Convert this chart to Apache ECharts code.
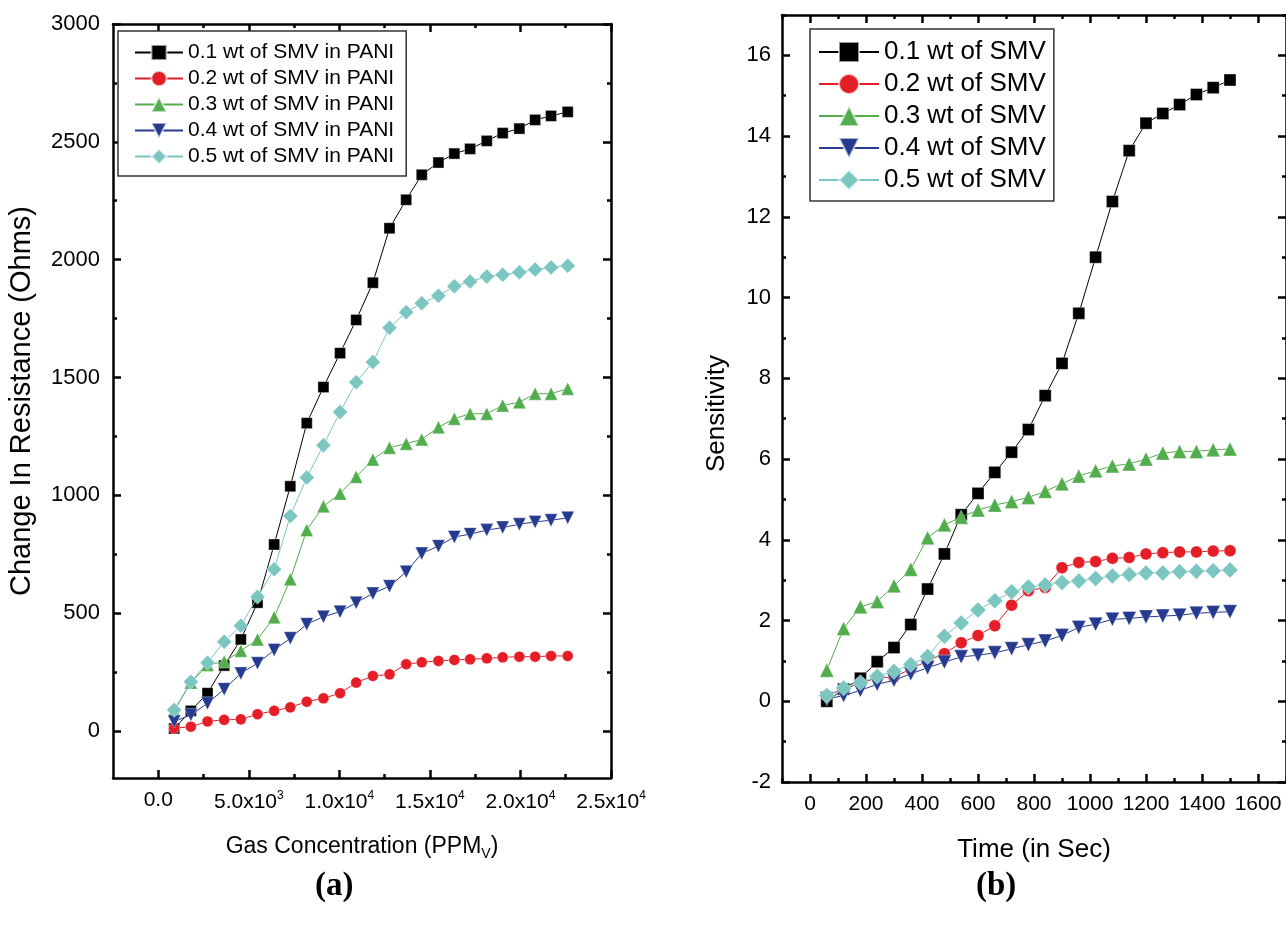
<!DOCTYPE html>
<html>
<head>
<meta charset="utf-8">
<title>SMV in PANI sensor response</title>
<script src="https://cdn.jsdelivr.net/npm/echarts@6/dist/echarts.min.js"></script>
<style>
  html, body { margin: 0; padding: 0; background: #fff; }
  #main { width: 1286px; height: 927px; }
</style>
</head>
<body>
<div id="main"></div>
<script>
// ---- (a) change in resistance vs gas concentration ----
var concA = [880, 1800, 2720, 3640, 4560, 5480, 6400, 7290, 8200, 9120, 10040, 10930, 11850,
  12770, 13690, 14550, 15470, 16350, 17220, 18140, 19020, 19940, 20810, 21690, 22610];
var resA1 = [10, 85, 160, 277, 388, 544, 791, 1038, 1306, 1459, 1603, 1744, 1902, 2133, 2254,
  2360, 2412, 2450, 2470, 2504, 2537, 2556, 2593, 2610, 2627];
var resA2 = [11, 18, 40, 47, 49, 71, 85, 100, 124, 138, 160, 205, 233, 240, 283, 291, 297, 301,
  304, 308, 312, 315, 315, 318, 318];
var resA3 = [85, 205, 280, 294, 340, 388, 482, 643, 852, 953, 1007, 1078, 1152, 1202, 1219, 1237,
  1289, 1325, 1346, 1346, 1381, 1395, 1431, 1431, 1452];
var resA4 = [40, 68, 117, 177, 244, 287, 343, 393, 453, 484, 506, 544, 583, 614, 675, 753, 784,
  823, 835, 852, 863, 877, 887, 894, 904];
var resA5 = [89, 209, 289, 378, 446, 569, 686, 912, 1075, 1212, 1353, 1480, 1565, 1711, 1777,
  1815, 1847, 1887, 1907, 1928, 1936, 1946, 1958, 1967, 1974];
var namesA = ['0.1 wt of SMV in PANI', '0.2 wt of SMV in PANI', '0.3 wt of SMV in PANI',
  '0.4 wt of SMV in PANI', '0.5 wt of SMV in PANI'];

// ---- (b) sensitivity vs time ----
var timeB = [60, 120, 180, 240, 300, 360, 420, 480, 540, 600, 660, 720, 780, 840, 900, 960,
  1020, 1080, 1140, 1200, 1260, 1320, 1380, 1440, 1500];
var sensB1 = [0.0, 0.3, 0.57, 0.98, 1.33, 1.90, 2.78, 3.65, 4.62, 5.15, 5.67, 6.17, 6.73, 7.57,
  8.37, 9.61, 11.0, 12.38, 13.64, 14.32, 14.56, 14.78, 15.03, 15.2, 15.39];
var sensB2 = [0.14, 0.3, 0.45, 0.58, 0.6, 0.8, 1.0, 1.18, 1.45, 1.63, 1.87, 2.38, 2.74, 2.82,
  3.31, 3.44, 3.46, 3.54, 3.56, 3.65, 3.68, 3.70, 3.70, 3.72, 3.73];
var sensB3 = [0.77, 1.80, 2.34, 2.47, 2.86, 3.27, 4.05, 4.37, 4.56, 4.74, 4.86, 4.95, 5.05, 5.20,
  5.39, 5.58, 5.71, 5.83, 5.88, 6.0, 6.15, 6.19, 6.19, 6.23, 6.25];
var sensB4 = [0.06, 0.14, 0.27, 0.42, 0.52, 0.68, 0.83, 0.97, 1.10, 1.14, 1.20, 1.30, 1.40, 1.49,
  1.63, 1.83, 1.91, 2.03, 2.05, 2.09, 2.11, 2.13, 2.18, 2.20, 2.22];
var sensB5 = [0.14, 0.33, 0.46, 0.62, 0.74, 0.91, 1.11, 1.61, 1.94, 2.26, 2.49, 2.71, 2.83, 2.88,
  2.94, 2.98, 3.04, 3.10, 3.14, 3.18, 3.18, 3.21, 3.22, 3.23, 3.25];
var namesB = ['0.1 wt of SMV', '0.2 wt of SMV', '0.3 wt of SMV', '0.4 wt of SMV', '0.5 wt of SMV'];

// ---- ticks / labels ----
var xTicksA = [0, 5000, 10000, 15000, 20000, 25000];
var xLabelsA = ['0.0', '5.0x10^3', '1.0x10^4', '1.5x10^4', '2.0x10^4', '2.5x10^4'];
var xMinorA = [2500, 7500, 12500, 17500, 22500];
var yTicksA = [0, 500, 1000, 1500, 2000, 2500, 3000];
var yMinorA = [250, 750, 1250, 1750, 2250, 2750];
var xTicksB = [0, 200, 400, 600, 800, 1000, 1200, 1400, 1600];
var xMinorB = [-100, 100, 300, 500, 700, 900, 1100, 1300, 1500, 1700];
var yTicksB = [-2, 0, 2, 4, 6, 8, 10, 12, 14, 16];
var yMinorB = [-1, 1, 3, 5, 7, 9, 11, 13, 15, 17];

var colors = ['#000000', '#e41e26', '#52ad4c', '#263b90', '#7bc6c1'];
var symbols = ['rect', 'circle', 'triangle', 'triangle', 'diamond'];
var rotates = [0, 0, 0, 180, 0];
var FONT = 'Liberation Sans';

var chart = echarts.init(document.getElementById('main'));

function pairs(xs, ys) {
  return xs.map(function(x, i) { return [x, ys[i]]; });
}
function plain(v) { return String(v); } // no thousands separators

// one axis side; major axes carry the frame line, minor ones only short ticks
function mkAxis(pos, grid, min, max, ticks, tickLen, opts) {
  var a = {
    type: 'value', gridIndex: grid, position: pos, min: min, max: max,
    splitLine: { show: false },
    axisLine: { show: tickLen > 5, onZero: false, lineStyle: { color: '#000', width: 2.5 } },
    axisTick: { show: true, inside: true, length: tickLen, customValues: ticks,
      lineStyle: { color: '#000', width: 2.5 } },
    axisLabel: { show: false }
  };
  return Object.assign(a, opts || {});
}

var supRich = {
  b: { fontFamily: FONT, fontSize: 21, color: '#000' },
  sup: { fontFamily: FONT, fontSize: 12, color: '#000', padding: [0, 0, 12, 0] }
};

var xAxes = [
  mkAxis('bottom', 0, -2500, 25000, xTicksA, 8, {
    name: 'Gas Concentration (PPM{sub|V})', nameLocation: 'middle', nameGap: 55,
    nameTextStyle: { fontFamily: FONT, fontSize: 23, color: '#000',
      rich: { sub: { fontFamily: FONT, fontSize: 14, color: '#000', padding: [14, 0, 0, 0] } } },
    axisLabel: { show: true, customValues: xTicksA, margin: 12,
      formatter: function(v) {
        var s = xLabelsA[xTicksA.indexOf(v)];
        var p = s.split('^');
        return p.length > 1 ? '{b|' + p[0] + '}{sup|' + p[1] + '}' : '{b|' + s + '}';
      },
      rich: supRich }
  }),
  mkAxis('top', 0, -2500, 25000, xTicksA, 8),
  mkAxis('bottom', 0, -2500, 25000, xMinorA, 4),
  mkAxis('top', 0, -2500, 25000, xMinorA, 4),
  mkAxis('bottom', 1, -100, 1700, xTicksB, 8, {
    name: 'Time (in Sec)', nameLocation: 'middle', nameGap: 55,
    nameTextStyle: { fontFamily: FONT, fontSize: 26, color: '#000' },
    axisLabel: { show: true, customValues: xTicksB, margin: 12, formatter: plain,
      fontFamily: FONT, fontSize: 21, color: '#000' }
  }),
  mkAxis('top', 1, -100, 1700, xTicksB, 8),
  mkAxis('bottom', 1, -100, 1700, xMinorB, 4),
  mkAxis('top', 1, -100, 1700, xMinorB, 4)
];

var yAxes = [
  mkAxis('left', 0, -200, 3000, yTicksA, 8, {
    name: 'Change In Resistance (Ohms)', nameLocation: 'middle', nameGap: 77,
    nameTextStyle: { fontFamily: FONT, fontSize: 29, color: '#000' },
    axisLabel: { show: true, customValues: yTicksA, margin: 13, formatter: plain,
      fontFamily: FONT, fontSize: 22, color: '#000' }
  }),
  mkAxis('right', 0, -200, 3000, yTicksA, 8),
  mkAxis('left', 0, -200, 3000, yMinorA, 4),
  mkAxis('right', 0, -200, 3000, yMinorA, 4),
  mkAxis('left', 1, -2, 17, yTicksB, 8, {
    name: 'Sensitivity', nameLocation: 'middle', nameGap: 52,
    nameTextStyle: { fontFamily: FONT, fontSize: 26, color: '#000', padding: [0, 0, 0, -30] },
    axisLabel: { show: true, customValues: yTicksB, margin: 11, formatter: plain,
      fontFamily: FONT, fontSize: 22, color: '#000' }
  }),
  mkAxis('right', 1, -2, 17, yTicksB, 8),
  mkAxis('left', 1, -2, 17, yMinorB, 4),
  mkAxis('right', 1, -2, 17, yMinorB, 4)
];

function mkSeries(name, xs, ys, i, axisIdx, size) {
  return {
    name: name, type: 'line', xAxisIndex: axisIdx, yAxisIndex: axisIdx,
    data: pairs(xs, ys),
    symbol: symbols[i], symbolRotate: rotates[i],
    symbolSize: i === 4 ? size + 4 : (i === 2 || i === 3 ? size + 2 : size),
    lineStyle: { color: colors[i], width: 1 },
    itemStyle: { color: colors[i], borderColor: 'rgba(255,255,255,0.6)', borderWidth: 0.6 },
    emphasis: { disabled: true },
    z: 2 + i
  };
}

var seriesA = [resA1, resA2, resA3, resA4, resA5].map(function(ys, i) {
  return mkSeries(namesA[i], concA, ys, i, 0, 11);
});
var seriesB = [sensB1, sensB2, sensB3, sensB4, sensB5].map(function(ys, i) {
  return mkSeries(namesB[i], timeB, ys, i, 4, 12);
});

var option = {
  backgroundColor: '#fff',
  animation: false,
  grid: [
    { left: 113, right: 675, top: 24, bottom: 149 },
    { left: 782, right: -2, top: 15, bottom: 145 }
  ],
  xAxis: xAxes,
  yAxis: yAxes,
  legend: [
    { data: namesA, orient: 'vertical', left: 118, top: 31, itemWidth: 48, itemHeight: 19,
      itemGap: 5, padding: [11, 12, 9, 16], borderColor: '#333', borderWidth: 1.5,
      backgroundColor: '#fff', textStyle: { fontFamily: FONT, fontSize: 21, color: '#000' } },
    { data: namesB, orient: 'vertical', left: 810, top: 29, itemWidth: 60, itemHeight: 25,
      itemGap: 6, padding: [10, 8, 8, 8], borderColor: '#333', borderWidth: 1.5,
      backgroundColor: '#fff', textStyle: { fontFamily: FONT, fontSize: 26, color: '#000' } }
  ],
  graphic: [
    { type: 'text', left: 315, top: 870, style: { text: '(a)', fontFamily: 'Liberation Serif',
      fontWeight: 'bold', fontSize: 33, fill: '#000' } },
    { type: 'text', left: 976, top: 870, style: { text: '(b)', fontFamily: 'Liberation Serif',
      fontWeight: 'bold', fontSize: 33, fill: '#000' } }
  ],
  series: seriesA.concat(seriesB)
};

chart.setOption(option);
</script>
</body>
</html>
